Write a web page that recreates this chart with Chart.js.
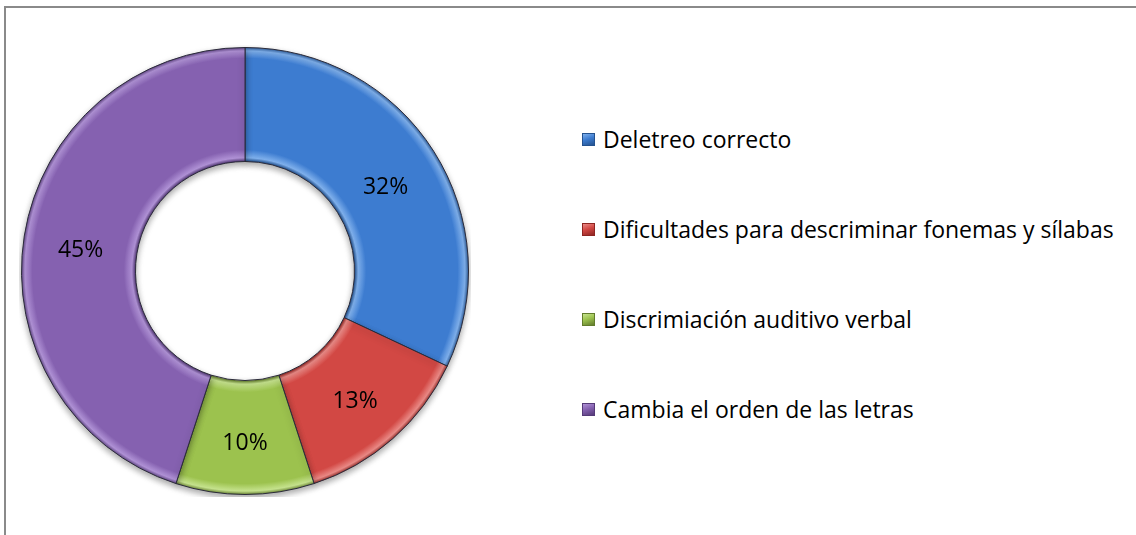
<!DOCTYPE html>
<html>
<head>
<meta charset="utf-8">
<script src="https://cdn.jsdelivr.net/npm/chart.js@4.4.0/dist/chart.umd.min.js"></script>
<style>
  html, body { margin: 0; padding: 0; background: #fff; }
  #frame {
    position: absolute; left: 4px; top: 6px; width: 1140px; height: 540px;
    border: 2px solid #8a8a8a; box-sizing: border-box;
  }
  #wrap { position: absolute; left: 19px; top: 45px; width: 452px; height: 452px; }
  #legend {
    position: absolute; left: 582px; top: 124px;
    font-family: "Open Sans", Lato, sans-serif; font-size: 23px; line-height: 30px; color: #000;
  }
  .item { height: 90px; display: flex; align-items: flex-start; white-space: nowrap; }
  .box { width: 13px; height: 13px; margin: 9px 8px 0 0; box-sizing: border-box; flex: none; }
</style>
</head>
<body>
<div id="frame"></div>
<div id="wrap"><canvas id="donut"></canvas></div>
<div id="legend"></div>
<script>
  // categories and values (percent)
  const labels = [
    "Deletreo correcto",
    "Dificultades para descriminar fonemas y sílabas",
    "Discrimiación auditivo verbal",
    "Cambia el orden de las letras",
  ];
  const values = [32, 13, 10, 45];
  const valueLabels = ["32%", "13%", "10%", "45%"];
  const colors = ["#3d7cd0", "#d24844", "#9cc24e", "#8561b0"];
  const lightColors = ["#7fb0ec", "#ea8a86", "#c6e38e", "#b092d6"];
  const darkColors = ["#24528f", "#8e2522", "#627c2c", "#553a78"];
  const cutoutPct = 0.49;

  // legend built from the arrays
  const legend = document.getElementById("legend");
  labels.forEach((lab, i) => {
    const row = document.createElement("div");
    row.className = "item";
    const box = document.createElement("span");
    box.className = "box";
    box.style.background =
      "linear-gradient(160deg," + lightColors[i] + " 0%," + colors[i] + " 45%," + darkColors[i] + " 100%)";
    box.style.border = "1px solid " + darkColors[i];
    const txt = document.createElement("span");
    txt.textContent = lab;
    row.appendChild(box);
    row.appendChild(txt);
    legend.appendChild(row);
  });

  // bevel-like gradient across the ring
  function ringFill(ctx) {
    const chart = ctx.chart;
    const a = chart.chartArea;
    const i = ctx.dataIndex;
    if (!a) return colors[i];
    const cx = (a.left + a.right) / 2;
    const cy = (a.top + a.bottom) / 2;
    const outer = Math.min(a.right - a.left, a.bottom - a.top) / 2;
    const inner = outer * cutoutPct;
    const g = chart.ctx.createRadialGradient(cx, cy, inner, cx, cy, outer);
    g.addColorStop(0, darkColors[i]);
    g.addColorStop(0.03, lightColors[i]);
    g.addColorStop(0.1, colors[i]);
    g.addColorStop(0.9, colors[i]);
    g.addColorStop(0.965, lightColors[i]);
    g.addColorStop(1, darkColors[i]);
    return g;
  }

  const shadowPlugin = {
    id: "shadow",
    beforeDatasetDraw(chart) {
      const c = chart.ctx;
      c.save();
      c.shadowColor = "rgba(0,0,0,0.35)";
      c.shadowBlur = 6;
      c.shadowOffsetY = 3;
    },
    afterDatasetDraw(chart) {
      chart.ctx.restore();
    },
  };

  const pctLabels = {
    id: "pctLabels",
    afterDatasetsDraw(chart) {
      const c = chart.ctx;
      const meta = chart.getDatasetMeta(0);
      c.save();
      c.font = "23px 'Open Sans', Lato, sans-serif";
      c.fillStyle = "#000";
      c.textAlign = "center";
      c.textBaseline = "middle";
      meta.data.forEach((arc, i) => {
        const p = arc.tooltipPosition();
        c.fillText(valueLabels[i], p.x, p.y + 6);
      });
      c.restore();
    },
  };

  new Chart(document.getElementById("donut"), {
    type: "doughnut",
    data: {
      labels: labels,
      datasets: [
        {
          data: values,
          backgroundColor: ringFill,
          borderColor: "#2b2b3a",
          borderWidth: 1,
        },
      ],
    },
    options: {
      responsive: true,
      maintainAspectRatio: false,
      animation: false,
      cutout: cutoutPct * 100 + "%",
      layout: { padding: 2 },
      plugins: {
        legend: { display: false },
        tooltip: { enabled: false },
      },
    },
    plugins: [shadowPlugin, pctLabels],
  });
</script>
</body>
</html>
